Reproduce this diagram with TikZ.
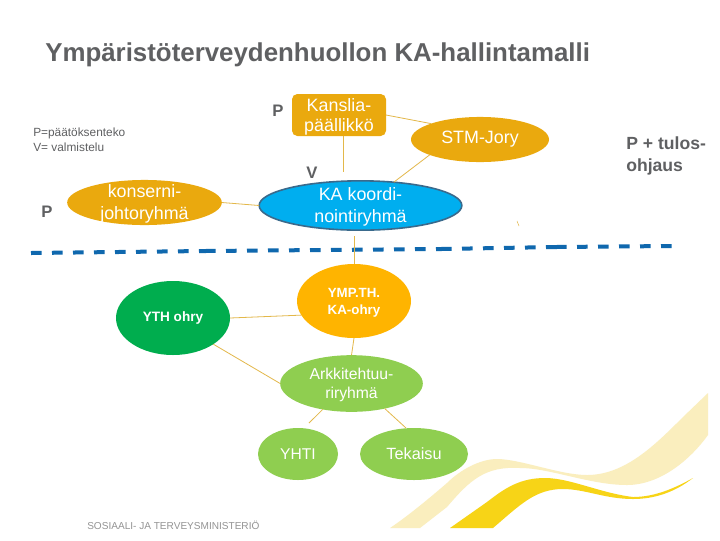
\documentclass[tikz,border=0pt]{standalone}
\usepackage{fontspec}
\setmainfont{Liberation Sans}
\usetikzlibrary{shapes.geometric}
\definecolor{amberA}{HTML}{EAA90E}
\definecolor{amberB}{HTML}{FFB400}
\definecolor{skyA}{HTML}{00AEEF}
\definecolor{rimA}{HTML}{3A6A8C}
\definecolor{greenA}{HTML}{00AD4E}
\definecolor{greenB}{HTML}{8FCE50}
\definecolor{dashA}{HTML}{0F68AE}
\definecolor{inkA}{HTML}{5F6062}
\definecolor{lineA}{HTML}{E3B84A}
\definecolor{paleA}{HTML}{FAEEBE}
\definecolor{goldA}{HTML}{F7D417}
\begin{document}
\begin{tikzpicture}[x=0.75pt,y=-0.75pt,
  oval/.style={ellipse,inner sep=0pt,outer sep=0pt,text=white,align=center},
  tag/.style={text=white,align=center,inner sep=0pt,font=\fontsize{13.4}{16.2}\selectfont,yshift=-1pt},
  wire/.style={draw=lineA,line width=0.6pt},
  hint/.style={text=inkA,font=\fontsize{12.5}{15}\selectfont\bfseries,inner sep=0pt,align=left},
  divider/.style={draw=dashA,line width=3pt,line cap=butt,dash pattern=on 8pt off 7.75pt}]
\useasboundingbox (0,0) rectangle (720,540);
\fill[white] (0,0) rectangle (720,540);
% waves
\fill[paleA] (390,528) .. controls (405,518) and (425,502) .. (447,483)
  .. controls (460,470) and (480,459) .. (497,459)
  .. controls (520,459) and (560,475) .. (587,475)
  .. controls (625,475) and (655,445) .. (683,417)
  -- (708,393) -- (708,435)
  .. controls (690,460) and (660,485) .. (627,485)
  .. controls (590,485) and (550,468) .. (520,468)
  .. controls (485,466) and (470,480) .. (447,507)
  -- (420,528) -- cycle;
\fill[goldA] (450,528) -- (487,502)
  .. controls (505,488) and (520,478) .. (545,478)
  .. controls (570,478) and (600,493) .. (633,497)
  .. controls (655,497) and (675,488) .. (693,478)
  .. controls (675,492) and (655,499) .. (633,499)
  .. controls (605,499) and (585,489) .. (563,489)
  .. controls (535,489) and (520,505) .. (493,528) -- cycle;
% title
\node[anchor=west,inner sep=0pt,text=inkA,font=\fontsize{19.4}{23}\selectfont\bfseries] (title) at (45,55) {Ympäristöterveydenhuollon KA-hallintamalli};
\node[anchor=north west,inner sep=0pt,text=inkA,align=left,font=\fontsize{8.9}{10.7}\selectfont] (legend) at (33,128) {P=päätöksenteko\\V= valmistelu};
% dashed divider
\coordinate (da) at (31,253);
\coordinate (db) at (205,251);
\coordinate (dc) at (441,249);
\coordinate (dd) at (556,247);
\coordinate (de) at (672,246);
\draw[divider] (da) -- (db);
\draw[divider] (db) -- (dc);
\draw[divider] (dc) -- (dd);
\draw[divider] (dd) -- (de);
% nodes
\node[fill=amberA,rounded corners=4pt,minimum width=70.5pt,minimum height=31.5pt,inner sep=0pt,outer sep=0pt,text=white,align=center,font=\fontsize{13.4}{15}\selectfont] (kans) at (339,115) {\rule{0pt}{12pt}Kanslia-\\päällikkö};
\node[oval,fill=amberA,minimum width=103.5pt,minimum height=33.8pt,font=\fontsize{13.4}{15}\selectfont] (stm) at (480,139.5) {STM-Jory};
\node[oval,fill=skyA,draw=rimA,line width=1.2pt,minimum width=152pt,minimum height=37pt,label={[tag]center:KA koordi-\\nointiryhmä}] (ka) at (360.5,205.5) {};
\node[oval,fill=amberA,minimum width=116pt,minimum height=33.8pt,label={[tag]center:konserni-\\johtoryhmä}] (kons) at (144.5,202.5) {};
\node[oval,fill=greenA,minimum width=85.5pt,minimum height=55.5pt,font=\fontsize{10.2}{12}\selectfont\bfseries] (yth) at (173,318) {YTH ohry};
\node[oval,fill=amberB,minimum width=85.5pt,minimum height=55.5pt,font=\fontsize{10}{12.75}\selectfont\bfseries] (ymp) at (354,301) {\rule{0pt}{9.4pt}YMP.TH.\\KA-ohry};
\node[oval,fill=greenB,minimum width=107pt,minimum height=42.5pt,font=\fontsize{11.8}{14.5}\selectfont] (ark) at (351.5,383.5) {\rule{0pt}{11pt}Arkkitehtuu-\\riryhmä};
\node[oval,fill=greenB,minimum width=60pt,minimum height=39pt,font=\fontsize{11.7}{13}\selectfont] (yhti) at (298,454) {YHTI};
\node[oval,fill=greenB,minimum width=81pt,minimum height=39pt,font=\fontsize{12.2}{13}\selectfont] (teka) at (414,454) {Tekaisu};
% labels
\node[hint] (pa) at (278,111) {P};
\node[hint] (va) at (312,173) {V};
\node[hint] (pb) at (47,212) {P};
\node[hint,anchor=north west,font=\fontsize{13.2}{16.5}\selectfont\bfseries] (pc) at (626,136) {P + tulos-\\ohjaus};
\node[anchor=west,inner sep=0pt,text=black!42,font=\fontsize{7.55}{9}\selectfont] (logo) at (87,525) {SOSIAALI- JA TERVEYSMINISTERIÖ};
% connectors
\coordinate (kanv) at (343,172);
\coordinate (arkb) at (309,423);
\coordinate (arkc) at (406,428);
\coordinate (katop) at (354,236);
\coordinate (marka) at (517,221);
\coordinate (markb) at (519,226);
\draw[wire] (kans.south -| kanv) -- (kanv);
\draw[wire] (kans.east) -- (stm.162);
\draw[wire] (stm.197.5) -- (ka.35);
\draw[wire] (ka.west) -- (kons.east);
\draw[wire] (katop) -- (ymp.north);
\draw[wire] (yth.east) -- (ymp.195);
\draw[wire] (ymp.south) -- (ark.north);
\draw[wire] (yth.327.6) -- (ark.west);
\draw[wire] (ark.222) -- (arkb);
\draw[wire] (ark.323.5) -- (arkc);
\draw[wire,line width=0.4pt] (marka) -- (markb);
\end{tikzpicture}
\end{document}
